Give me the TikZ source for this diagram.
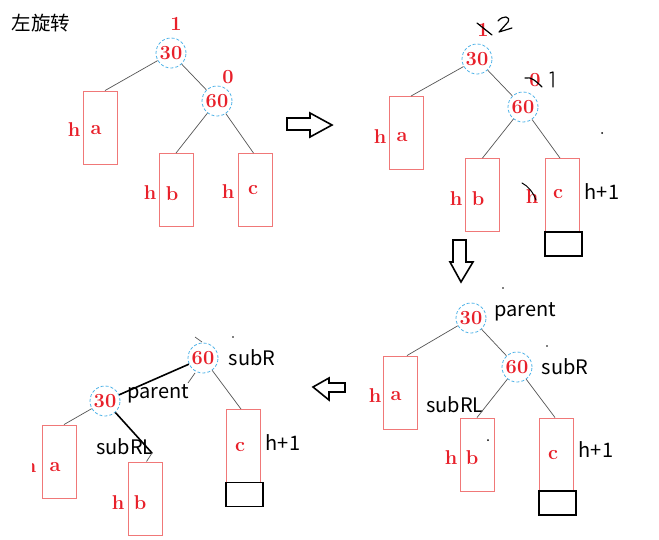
\documentclass[tikz,border=0pt]{standalone}
\usepackage{fontspec}
\newfontfamily\cjk{Noto Sans CJK SC}
\definecolor{numred}{HTML}{E8202A}
\definecolor{boxred}{HTML}{F07878}
\definecolor{ringblue}{HTML}{4FB3E8}
\definecolor{edgegray}{HTML}{555555}
\begin{document}
\begin{tikzpicture}[x=1pt,y=-1pt,
  avl/.style={circle,draw=ringblue,densely dashed,line width=0.8pt,minimum size=30pt,inner sep=0pt,
    text=numred,font=\fontsize{20}{20}\selectfont\bfseries},
  subtree/.style={draw=boxred,line width=0.9pt,minimum width=34pt,minimum height=73pt,inner sep=0pt},
  growbox/.style={draw=black,line width=1.6pt,minimum width=37pt,minimum height=24pt,inner sep=0pt},
  redtxt/.style={text=numred,font=\fontsize{20}{20}\selectfont\bfseries,inner sep=0pt},
  sanslbl/.style={font=\cjk\fontsize{20}{20}\selectfont,inner sep=0pt},
  edge/.style={draw=edgegray,line width=0.7pt},
  boldedge/.style={draw=black,line width=1.6pt},
  hand/.style={draw=black,line width=1.2pt,line cap=round,line join=round},
  bigarrow/.style={draw=black,line width=1.6pt,fill=white,line join=miter}]
\useasboundingbox (0,0) rectangle (659,539);
\fill[white] (0,0) rectangle (659,539);

% ---------- panel 1 ----------
\node[font=\cjk\fontsize{19.5}{19.5}\selectfont,inner sep=0pt] (title) at (41,23) {左旋转};
\node[avl] (p1n30) at (171,53) {30};
\node[avl] (p1n60) at (217,101) {60};
\node[redtxt] (p1bf30) at (176,24) {1};
\node[redtxt] (p1bf60) at (228,77) {0};
\node[subtree] (p1a) at (100,127.5) {};
\node[subtree] (p1b) at (176,190) {};
\node[subtree] (p1c) at (255.5,190) {};
\node[redtxt] (p1ha) at (74,130) {h};
\node[redtxt] (p1la) at (96,130) {a};
\node[redtxt] (p1hb) at (150,193) {h};
\node[redtxt] (p1lb) at (172,194) {b};
\node[redtxt] (p1hc) at (228,192) {h};
\node[redtxt] (p1lc) at (253,190) {c};
\draw[edge] (p1n30) -- ([xshift=5pt]p1a.north);
\draw[edge] (p1n30) -- (p1n60);
\draw[edge] (p1n60) -- (p1b.north);
\draw[edge] (p1n60) -- ([xshift=-2pt]p1c.north);

% right arrow
\draw[bigarrow] (287,118) -- (310,118) -- (310,113) -- (332,125) -- (310,137) -- (310,130) -- (287,130) -- cycle;

% ---------- panel 2 ----------
\node[avl] (p2n30) at (477,59) {30};
\node[avl] (p2n60) at (523,107) {60};
\node[redtxt] (p2bf30) at (483,30) {1};
\node[redtxt] (p2bf60) at (535,80) {0};
\draw[hand] (477,23) -- (492,35);
\draw[hand] (498,21) .. controls (503,15) and (511,16) .. (508,22) -- (499,32) -- (512,28);
\draw[hand] (525,78) .. controls (531,76) and (537,82) .. (542,87);
\draw[hand] (550,73) -- (553,72) -- (553,87);
\node[subtree] (p2a) at (406,133) {};
\node[subtree] (p2b) at (482.5,195) {};
\node[subtree] (p2c) at (562,195) {};
\node[growbox] (p2g) at (563.5,244) {};
\node[redtxt] (p2ha) at (380,137) {h};
\node[redtxt] (p2la) at (402,137) {a};
\node[redtxt] (p2hb) at (456,199) {h};
\node[redtxt] (p2lb) at (478,199) {b};
\node[redtxt] (p2hc) at (532,197) {h};
\node[redtxt] (p2lc) at (558,194) {c};
\node[sanslbl] (p2hp) at (602,192) {h+1};
\draw[hand,line width=1pt] (522,183) .. controls (528,186) and (533,192) .. (536,200);
\fill[black] (602,133) circle (1pt);
\draw[edge] (p2n30) -- ([xshift=5pt]p2a.north);
\draw[edge] (p2n30) -- (p2n60);
\draw[edge] (p2n60) -- (p2b.north);
\draw[edge] (p2n60) -- ([xshift=-2pt]p2c.north);

% down arrow
\draw[bigarrow] (453,240) -- (466,240) -- (466,262) -- (473,262) -- (461,282) -- (450,262) -- (453,262) -- cycle;

% ---------- panel 3 ----------
\node[avl] (p3n30) at (471,318) {30};
\node[avl] (p3n60) at (517,367) {60};
\node[sanslbl] (p3par) at (525,312) {parent};
\node[sanslbl] (p3subr) at (565,367) {subR};
\node[sanslbl] (p3subrl) at (455,405) {subRL};
\node[subtree] (p3a) at (400,392.5) {};
\node[subtree] (p3b) at (477,454.5) {};
\node[subtree] (p3c) at (556,454.5) {};
\node[growbox] (p3g) at (557.5,503) {};
\node[redtxt] (p3ha) at (375,396) {h};
\node[redtxt] (p3la) at (396,396) {a};
\node[redtxt] (p3hb) at (451,458) {h};
\node[redtxt] (p3lb) at (472,458) {b};
\node[redtxt] (p3lc) at (553,455) {c};
\node[sanslbl] (p3hp) at (596,450) {h+1};
\fill[black] (503,288) circle (0.9pt);
\fill[black] (547,346) circle (0.9pt);
\fill[black] (488,440) circle (1pt);
\draw[edge] (p3n30) -- ([xshift=7pt]p3a.north);
\draw[edge] (p3n30) -- (p3n60);
\draw[edge] (p3n60) -- (p3b.north);
\draw[edge] (p3n60) -- ([xshift=-1pt]p3c.north);

% left arrow
\draw[bigarrow] (313,387) -- (329,378) -- (329,383) -- (345,383) -- (345,392) -- (329,392) -- (329,400) -- cycle;

% ---------- panel 4 ----------
\node[avl] (p4n60) at (203,358) {60};
\node[avl] (p4n30) at (105,401) {30};
\node[sanslbl] (p4subr) at (252,358) {subR};
\node[sanslbl] (p4par) at (158,394) {parent};
\node[sanslbl] (p4subrl) at (125,447) {subRL};
\node[subtree] (p4a) at (59,461.5) {};
\node[subtree] (p4b) at (145.5,498.5) {};
\node[subtree] (p4c) at (243,446) {};
\node[growbox] (p4g) at (244.5,494.5) {};
\begin{scope}
\clip (32,440) rectangle (60,490);
\node[redtxt] (p4ha) at (30,466) {h};
\end{scope}
\node[redtxt] (p4la) at (55,467) {a};
\node[redtxt] (p4hb) at (118,503) {h};
\node[redtxt] (p4lb) at (140,503) {b};
\node[redtxt] (p4lc) at (240,447) {c};
\node[sanslbl] (p4hp) at (283,443) {h+1};
\coordinate (p4hook) at (152,453);
\draw[boldedge] (p4n30) -- (p4n60);
\draw[boldedge] (p4n30) -- (p4hook);
\draw[edge] (p4hook) -- ([xshift=1pt]p4b.north);
\draw[edge] (p4n30) -- ([xshift=5pt]p4a.north);
\draw[edge] (p4n60) -- ([xshift=-2pt]p4c.north);
\draw[edge] (195,373) -- (188,383);
\draw[edge] (195,337) -- (202,342);
\fill[black] (233,337) circle (0.9pt);
\end{tikzpicture}
\end{document}
